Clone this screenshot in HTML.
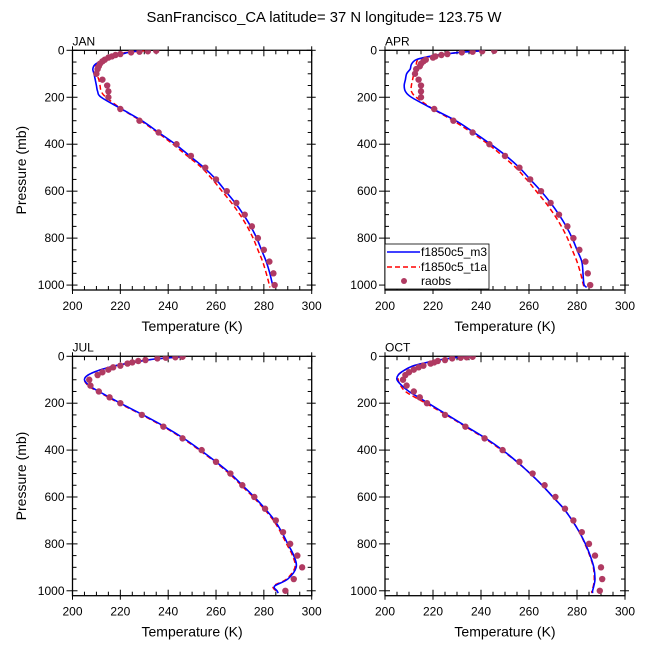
<!DOCTYPE html>
<html><head><meta charset="utf-8"><style>
html,body{margin:0;padding:0;background:#fff;}
svg{display:block;font-family:"Liberation Sans",sans-serif;}
</style></head><body>
<svg id="chart" width="648" height="649" viewBox="0 0 648 649">
<text x="324" y="22" font-size="15" text-anchor="middle" textLength="355" lengthAdjust="spacingAndGlyphs">SanFrancisco_CA  latitude= 37 N longitude= 123.75 W</text>
</svg>
<script>
const months = ["JAN","APR","JUL","OCT"];
const xTicks = [200,220,240,260,280,300];
const yTicks = [0,200,400,600,800,1000];
const obsLevels = [2,4,6,9,16,20,26,31,40,47,57,68,80,100,125,150,175,200,250,300,350,400,450,500,550,600,650,700,750,800,850,900,950,1000];
const obsJAN = [235,231.5,228,224.5,220,218,216.5,215,213.5,212.5,211.5,211,210.5,210,212.5,214.5,215,215,220,228,236,243.5,249.5,255.5,260,264.5,268.5,272,275,277.5,280,282.3,284,284.5];
const obsAPR = [245.5,240.5,236.5,232,226,223.5,221,220,217,216,215,214.5,213,212.5,214,215,215,215,220.5,228.5,236.5,243.5,250,256,260.5,265,269,272.5,276,278.5,281,283.5,284.5,285.5];
const obsJUL = [246,243,239,235.5,230.5,227.5,225,223,220,217,215,212.5,210.5,207,207.5,211,215.5,220,229,238,246,254,260,266,271,276,280.5,285,288,291,294,296,292.5,289];
const obsOCT = [236.5,234,231.5,228,225,222,220.5,219,216,214,212,210,208.5,207.5,209,212,214.5,217.5,225,233.5,241.5,249,256,261.5,266.5,271,275,278.5,282,285,287.5,290,290.5,289.5];
const m3Levels = [2,5,10,15,25,40,60,80,100,125,150,175,200,250,300,350,400,450,500,550,600,650,700,750,800,850,900,950,980,1000,1010];
const m3JAN = [229,225.5,223,221,217,213,209.5,208.5,209,209.5,210,210.5,212,220.5,229,236,243,249,255,260,264,268,271.5,274.5,277,279,281,282.5,283.2,283.7,284];
const t1aJAN = [230,227,222,220,217,213,210,209.5,210,211,211.5,212,214,220.5,228.5,235.5,242,248,254,258.5,262.5,266.5,270,273,275.5,277.5,279.5,281,281.8,282.3,282.5];
const m3APR = [241,236,230,226,219,213,211,210.5,209,208.5,208,208.5,211,220,229.5,237,244,250.5,256,260.5,265,269,272.5,275.5,278,280,282,282.5,282.7,283,284];
const t1aAPR = [240,235,230,226,220,214,213,212.5,212,211.5,211,211,213,220,228.5,236,243,249,254.5,259,263,267,270.5,273.5,276,278,280,281.5,282.2,282.7,283];
const m3JUL = [246,242,236,232,226,218,211,206.5,205,207,211,215.5,220,229.5,238.5,246.5,253.5,260,266,271,276,280.5,284.5,287.5,290,292.5,293.5,290,284.5,285.5,286];
const t1aJUL = [246,242,236,232,226,218,211,206.5,205,206.5,210.5,215,219.5,229,238,246,253,259.5,265.5,270.5,275.5,280,284,287,289.5,292,293,289.5,284,285,285.5];
const m3OCT = [236,230,226,223,218,212,208,205.5,205,207,210,214,218,226,234,242,249,255,260.5,265.5,270,274.5,278,281,283.5,285.5,287,287.5,287,286.5,286.5];
const t1aOCT = [236,230,226,223,218,212,208,205.5,205.5,206.5,208.5,212.5,217,225.5,233.5,241.5,248.5,255,260.5,265.5,270,274.5,278,281,283.3,285.3,286.8,287.2,286.8,286.2,286.2];

const obsByMonth = [obsJAN,obsAPR,obsJUL,obsOCT];
const m3ByMonth = [m3JAN,m3APR,m3JUL,m3OCT];
const t1aByMonth = [t1aJAN,t1aAPR,t1aJUL,t1aOCT];
const panelBoxes = [[72.5,50.3,311.7,290],[385,50.3,625,290],[72.5,356.3,311.7,595.7],[385,356.3,625,595.7]];
const NS = "http://www.w3.org/2000/svg";
const svg = document.getElementById("chart");
function mk(tag, attrs, parent){const e=document.createElementNS(NS,tag);for(const k in attrs)e.setAttribute(k,attrs[k]);(parent||svg).appendChild(e);return e;}
function smooth(pts){
  let d="M"+pts[0][0].toFixed(2)+","+pts[0][1].toFixed(2);
  for(let i=0;i<pts.length-1;i++){
    const p0=pts[Math.max(0,i-1)],p1=pts[i],p2=pts[i+1],p3=pts[Math.min(pts.length-1,i+2)];
    const c1x=p1[0]+(p2[0]-p0[0])/6,c1y=p1[1]+(p2[1]-p0[1])/6;
    const c2x=p2[0]-(p3[0]-p1[0])/6,c2y=p2[1]-(p3[1]-p1[1])/6;
    d+=" C"+c1x.toFixed(2)+","+c1y.toFixed(2)+" "+c2x.toFixed(2)+","+c2y.toFixed(2)+" "+p2[0].toFixed(2)+","+p2[1].toFixed(2);
  }
  return d;
}
months.forEach((m,pi)=>{
  const [L,T,R,B]=panelBoxes[pi];
  const y1000 = T + (B-T)*1000/1021;
  const xS = v => L + (v-200)/100*(R-L);
  const yS = p => T + p/1000*(y1000-T);
  const g = mk("g",{});
  
  
  const clip = mk("clipPath",{id:"clip"+pi},g);
  mk("rect",{x:L,y:T,width:R-L,height:B-T},clip);
  for(let v=205;v<300;v+=5){ if(v%20===0) continue;
    mk("line",{x1:xS(v),x2:xS(v),y1:B,y2:B-4,stroke:"#000","stroke-width":1},g);
    mk("line",{x1:xS(v),x2:xS(v),y1:T,y2:T+4,stroke:"#000","stroke-width":1},g);
  }
  for(let p=50;p<=1000;p+=50){ if(p%200===0) continue;
    mk("line",{x1:L,x2:L+4,y1:yS(p),y2:yS(p),stroke:"#000","stroke-width":1},g);
    mk("line",{x1:R,x2:R-4,y1:yS(p),y2:yS(p),stroke:"#000","stroke-width":1},g);
  }
  xTicks.forEach(v=>{
    mk("line",{x1:xS(v),x2:xS(v),y1:B+4,y2:B-6,stroke:"#000","stroke-width":1},g);
    mk("line",{x1:xS(v),x2:xS(v),y1:T-4,y2:T+6,stroke:"#000","stroke-width":1},g);
    const t=mk("text",{x:xS(v),y:B+20,"font-size":12,"text-anchor":"middle"},g);
    
    
    t.textContent=v;
  });
  yTicks.forEach(p=>{
    mk("line",{x1:L-6,x2:L+5,y1:yS(p),y2:yS(p),stroke:"#000","stroke-width":1},g);
    mk("line",{x1:R-5,x2:R+4,y1:yS(p),y2:yS(p),stroke:"#000","stroke-width":1},g);
    const t=mk("text",{x:L-8,y:yS(p)+4,"font-size":12,"text-anchor":"end"},g);
    
    
    t.textContent=p;
  });
  mk("rect",{x:L,y:T,width:R-L,height:B-T,fill:"none",stroke:"#000","stroke-width":1.3},g);
  const pt=mk("text",{x:L,y:T-5,"font-size":12},g);
  
  
  pt.textContent=m;
  const xt=mk("text",{x:(L+R)/2,y:B+41,"font-size":14,"text-anchor":"middle"},g);
  
  
  xt.textContent="Temperature (K)";
  if(pi%2===0){
    const yt=mk("text",{x:0,y:0,"font-size":14,"text-anchor":"middle",transform:"translate(26,"+((T+B)/2)+") rotate(-90)"},g);
    
    
    yt.textContent="Pressure (mb)";
  }
  const cg=mk("g",{"clip-path":"url(#clip"+pi+")"},g);
  const t1=mk("path",{d:smooth(m3Levels.map((p,i)=>[xS(t1aByMonth[pi][i]),yS(p)])),fill:"none",stroke:"#ff0000","stroke-width":1.5,"stroke-dasharray":"5,3"},cg);
  
  
  const b=mk("path",{d:smooth(m3Levels.map((p,i)=>[xS(m3ByMonth[pi][i]),yS(p)])),fill:"none",stroke:"#0000ff","stroke-width":1.6},cg);
  
  
  obsLevels.forEach((p,i)=>{
    const c=mk("circle",{cx:xS(obsByMonth[pi][i]),cy:yS(p),r:3.2,fill:"#b03a62"},cg);
    
    
  });
  if(pi===1){
    const lg=mk("g",{},g);
    
    
    mk("rect",{x:385,y:244,width:104,height:45,fill:"#fff",stroke:"#000","stroke-width":0.8},lg);
    mk("line",{x1:387,x2:420,y1:252,y2:252,stroke:"#0000ff","stroke-width":1.6},lg);
    mk("line",{x1:387,x2:420,y1:267,y2:267,stroke:"#ff0000","stroke-width":1.5,"stroke-dasharray":"5,3"},lg);
    mk("circle",{cx:404,cy:281,r:3,fill:"#b03a62"},lg);
    [["f1850c5_m3",256],["f1850c5_t1a",271],["raobs",285]].forEach(([s,y])=>{
      const t=mk("text",{x:421,y:y,"font-size":12},lg);
      
      
      t.textContent=s;
    });
  }
});
</script>
</body></html>
